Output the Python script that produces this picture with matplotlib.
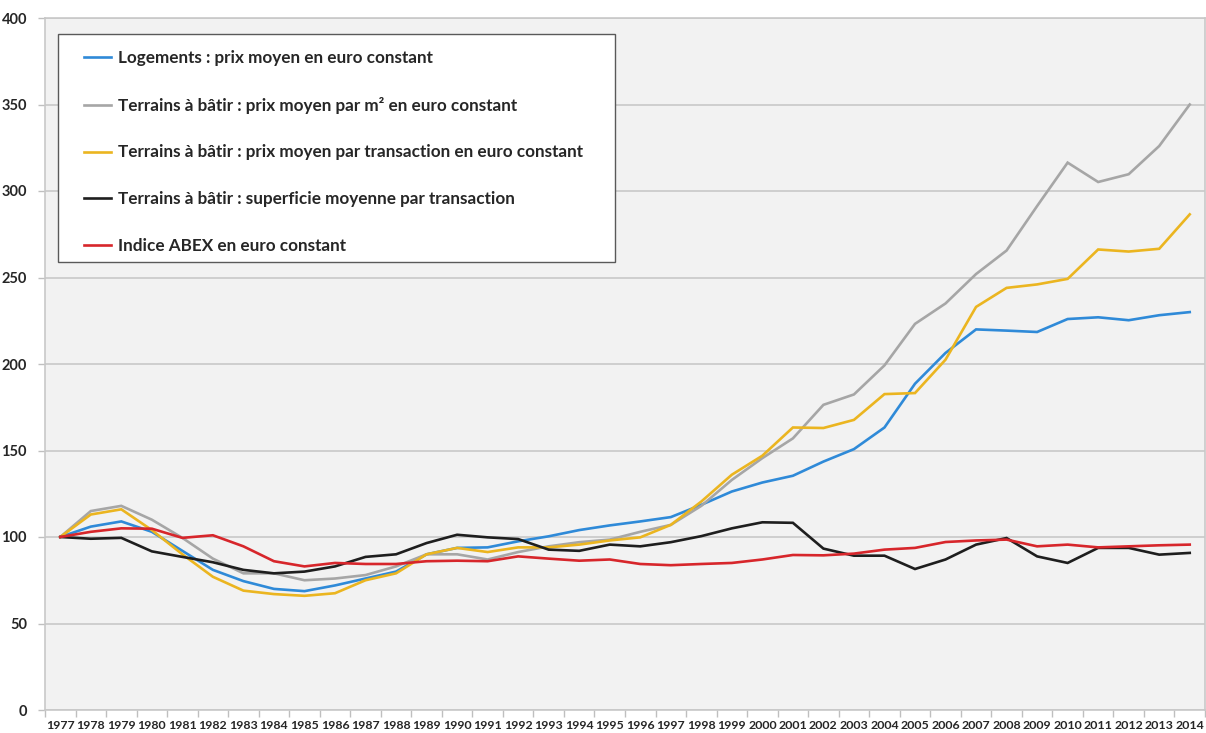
import matplotlib
matplotlib.use("Agg")
import matplotlib.pyplot as plt
from matplotlib.patches import Rectangle
from matplotlib.lines import Line2D

plt.rcParams['font.family'] = ['Lato', 'DejaVu Sans']

years = list(range(1977, 2015))
year_labels = [str(y) for y in years]

logements = [100, 106, 109, 103, 92, 81, 74.5, 70, 68.7, 72, 76, 80, 90,
             93.7, 94, 97.5, 100.4, 104, 106.7, 109, 111.5, 118.6,
             126.3, 131.5, 135.4, 143.6, 150.8, 163.3,
             188.6, 206.4, 220, 219.3, 218.5, 226, 227, 225.3, 228.2, 230]
terrains_m2 = [100, 115, 118, 110, 99.5, 87.5, 79, 79, 75, 76, 78, 83, 90,
               90, 87, 91.3, 94.6, 97, 98.5, 103, 107, 118,
               133, 145.6, 157, 176.4, 182.4, 199.2,
               223.2, 235, 252, 265.6, 291.3, 316.4, 305.2, 309.7, 326, 350]
terrains_transac = [100, 113, 116, 104, 90, 77, 69, 67, 66, 67.5, 75, 79, 90,
                    93.7, 91.3, 94, 94, 95.6, 98, 99.8, 107, 120.5,
                    136, 147, 163.3, 163, 167.7, 182.6,
                    183.2, 202.5, 233, 244, 246, 249.2, 266.2, 265, 266.6, 286.5]
superficie = [100, 99, 99.5, 91.7, 88.5, 85.4, 81, 79, 80, 83, 88.5, 90, 96.5,
              101.3, 99.8, 98.8, 92.7, 92, 95.6, 94.6, 97, 100.5,
              105, 108.5, 108.2, 93.3, 89.2, 89.2,
              81.5, 87, 95.6, 99.4, 88.8, 85, 93.7, 93.7, 89.8, 90.8]
abex = [100, 103, 105, 104.8, 99.5, 101, 94.6, 86, 83, 85, 84.4, 84.4, 86,
        86.3, 86, 88.8, 87.5, 86.3, 87, 84.4, 83.7, 84.4,
        85, 87, 89.6, 89.4, 90.4, 92.7,
        93.7, 97.1, 98, 98.5, 94.6, 95.6, 94, 94.6, 95.2, 95.6]

series_labels = [
    "Logements : prix moyen en euro constant",
    "Terrains à bâtir : prix moyen par m² en euro constant",
    "Terrains à bâtir : prix moyen par transaction en euro constant",
    "Terrains à bâtir : superficie moyenne par transaction",
    "Indice ABEX en euro constant",
]
series = [logements, terrains_m2, terrains_transac, superficie, abex]
colors = ["#2f8ad8", "#a6a6a6", "#ebb520", "#1e1e1e", "#d7262b"]

fig = plt.figure(figsize=(12.06, 7.33), dpi=100)
fig.patch.set_facecolor("white")
ax = fig.add_axes([45 / 1206, 1 - 710 / 733, 1160 / 1206, 692 / 733])
ax.set_facecolor("#f2f2f2")

x = list(range(len(years)))
for vals, c in zip(series, colors):
    ax.plot(x, vals, color=c, lw=1.9, solid_joinstyle="miter", zorder=3)

ax.set_xlim(-0.5, len(years) - 0.5)
ax.set_ylim(0, 400)
ax.set_yticks(range(0, 401, 50))
ax.yaxis.grid(True, color="#c8c8c8", lw=1.2, zorder=1)
ax.set_axisbelow(True)

ax.set_xticks(x)
ax.set_xticklabels(year_labels, fontsize=8.9, fontweight="bold", color="#262626")
ax.set_xticks([i - 0.5 for i in range(len(years) + 1)], minor=True)
ax.tick_params(axis="x", which="major", length=0, pad=7)
ax.tick_params(axis="x", which="minor", length=5, color="#bfbfbf", width=1)
ax.tick_params(axis="y", length=5, color="#bfbfbf", width=1, pad=8,
               labelsize=10.5, labelcolor="#262626")
for lab in ax.get_yticklabels():
    lab.set_fontweight("bold")

for side in ["left", "bottom", "right", "top"]:
    ax.spines[side].set_color("#c8c8c8")
    ax.spines[side].set_linewidth(1.2)

# legend box
rect = Rectangle((13 / 1160, 1 - 244 / 692), 557 / 1160, 228 / 692,
                 transform=ax.transAxes, facecolor="white",
                 edgecolor="#595959", lw=1.0, zorder=4)
ax.add_patch(rect)
handles = [Line2D([0], [0], color=c, lw=1.9) for c in colors]
leg = ax.legend(handles, series_labels, loc="upper left",
                bbox_to_anchor=(39 / 1160, 1 - 32 / 692),
                frameon=False, borderpad=0, borderaxespad=0,
                handlelength=1.6, handletextpad=0.4,
                labelspacing=1.8, prop={"size": 12.3, "weight": "bold"})
leg.set_zorder(5)
for t in leg.get_texts():
    t.set_color("#262626")

fig.savefig("out.png", dpi=100)
